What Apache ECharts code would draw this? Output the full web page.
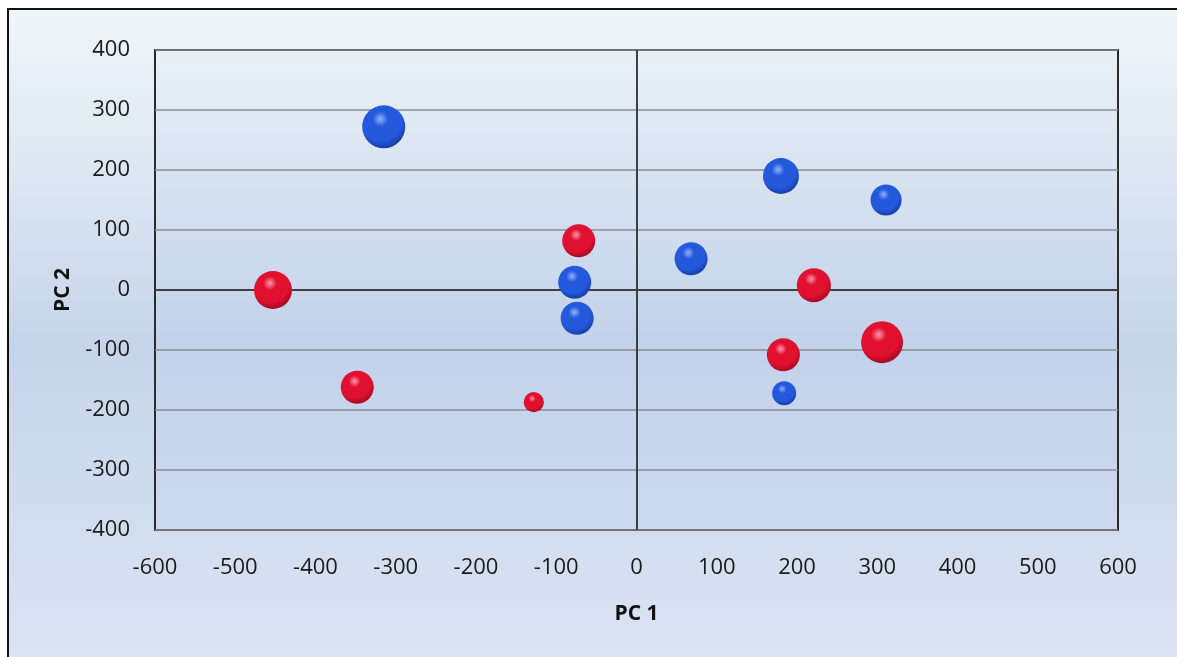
<!DOCTYPE html>
<html>
<head>
<meta charset="utf-8">
<title>PCA bubble chart</title>
<script src="https://cdn.jsdelivr.net/npm/echarts@6/dist/echarts.min.js"></script>
<style>
  html, body { margin: 0; padding: 0; background: #ffffff; }
  #wrap { position: relative; width: 1177px; height: 657px; overflow: hidden; }
  #frame {
    position: absolute; left: 7px; top: 8px; width: 1200px; height: 700px;
    border-left: 2.5px solid #111; border-top: 2.5px solid #111;
    background: linear-gradient(to bottom, #eef6f8 0%, #dce6f2 25%, #c6d4ea 48%, #d2ddef 75%, #e0e7f4 100%);
  }
  #chart { position: absolute; left: 0; top: 0; width: 1177px; height: 657px; }
</style>
</head>
<body>
<div id="wrap">
  <div id="frame"></div>
  <div id="chart"></div>
</div>
<script>
// Scores on the first two principal components; third value is bubble size
const groupA_pc1  = [-315, -77, -74, 68, 180, 311, 184];
const groupA_pc2  = [272, 13, -47, 52, 190, 150, -172];
const groupA_size = [100, 59, 59, 59, 70, 52, 31];

const groupB_pc1  = [-453, -348, -128, -72, 221, 183, 306];
const groupB_pc2  = [0, -162, -187, 82, 8, -108, -87];
const groupB_size = [78, 59, 22, 59, 63, 59, 95];

const xTicks = { min: -600, max: 600, interval: 100 };
const yTicks = { min: -400, max: 400, interval: 100 };

function rows(xs, ys, ss) {
  return xs.map((x, i) => [x, ys[i], ss[i]]);
}

// bubble area proportional to size value
function bubbleDiameter(v) {
  return 43 * Math.sqrt(v[2] / 100);
}

// shaded ball: highlight up-left, darker towards the rim
function sphere(light, mid, dark, rim) {
  return {
    type: 'radial', x: 0.42, y: 0.32, r: 0.72,
    colorStops: [
      { offset: 0, color: light },
      { offset: 0.25, color: mid },
      { offset: 0.7, color: mid },
      { offset: 0.93, color: dark },
      { offset: 1, color: rim }
    ]
  };
}

const font = '"Open Sans", "DejaVu Sans", sans-serif';

const chart = echarts.init(document.getElementById('chart'), null, { renderer: 'canvas' });

chart.setOption({
  backgroundColor: 'transparent',
  animation: false,
  grid: {
    left: 155, top: 50, right: 59, bottom: 127,
    show: true,
    borderColor: '#2b2b2b', borderWidth: 2,
    backgroundColor: {
      type: 'linear', x: 0, y: 0, x2: 0, y2: 1,
      colorStops: [
        { offset: 0, color: '#e9f1f7' },
        { offset: 0.3, color: '#d6e1f0' },
        { offset: 0.6, color: '#c3d2eb' },
        { offset: 1, color: '#cdd9ef' }
      ]
    }
  },
  xAxis: {
    type: 'value',
    min: xTicks.min, max: xTicks.max, interval: xTicks.interval,
    name: 'PC 1',
    nameLocation: 'middle',
    nameGap: 74,
    nameTextStyle: { fontFamily: font, fontSize: 21, fontWeight: 'bold', color: '#111' },
    axisLine: { show: false },
    axisTick: { show: false },
    splitLine: { show: false },
    axisLabel: { fontFamily: font, fontSize: 22, color: '#1a1a1a', margin: 27 }
  },
  yAxis: {
    type: 'value',
    min: yTicks.min, max: yTicks.max, interval: yTicks.interval,
    name: 'PC 2',
    nameLocation: 'middle',
    nameGap: 81,
    nameTextStyle: { fontFamily: font, fontSize: 21, fontWeight: 'bold', color: '#111' },
    axisLine: { show: false },
    axisTick: { show: false },
    splitLine: { show: true, lineStyle: { color: '#8a8d92', width: 1.5 } },
    axisLabel: { fontFamily: font, fontSize: 22, color: '#1a1a1a', margin: 25 }
  },
  series: [
    {
      name: 'Group A',
      type: 'scatter',
      data: rows(groupA_pc1, groupA_pc2, groupA_size),
      symbolSize: bubbleDiameter,
      itemStyle: { opacity: 1, color: sphere('#8fb2ff', '#2459dc', '#173fa8', '#2c5ad0') },
      markLine: {
        silent: true,
        symbol: 'none',
        label: { show: false },
        lineStyle: { color: '#3c3f44', width: 2, type: 'solid' },
        data: [{ xAxis: 0 }, { yAxis: 0 }],
        z: 1
      },
      z: 3
    },
    {
      name: 'Group B',
      type: 'scatter',
      data: rows(groupB_pc1, groupB_pc2, groupB_size),
      symbolSize: bubbleDiameter,
      itemStyle: { opacity: 1, color: sphere('#ff97ab', '#e0102f', '#a80a26', '#d23a58') },
      z: 3
    }
  ]
});
</script>
</body>
</html>
